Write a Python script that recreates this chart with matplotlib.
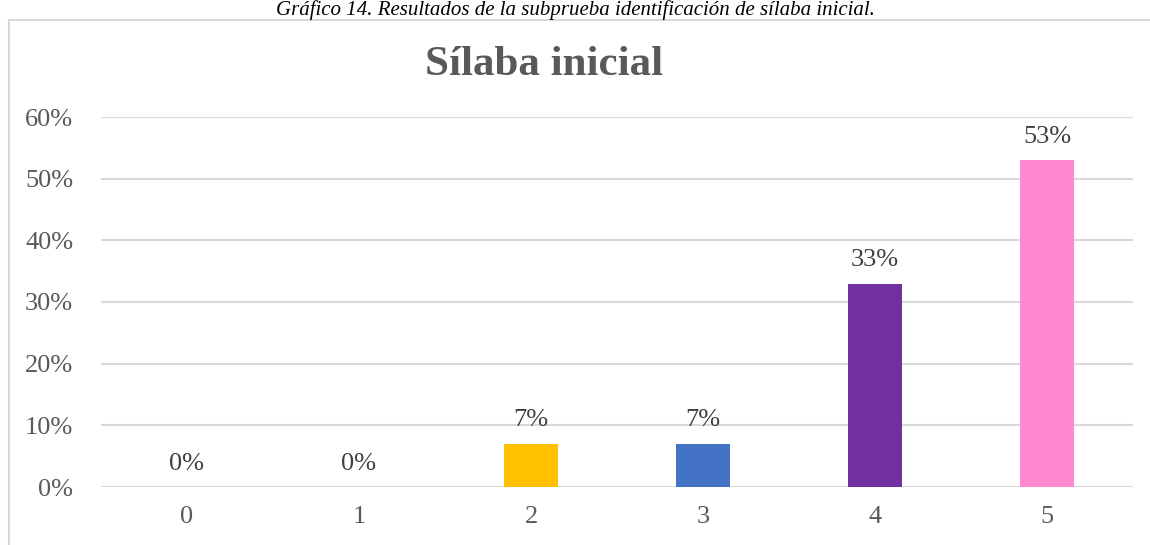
import matplotlib
matplotlib.use("Agg")
import matplotlib.pyplot as plt
from matplotlib.lines import Line2D

plt.rcParams['font.family'] = ['Liberation Serif', 'DejaVu Serif']

categories = ['0', '1', '2', '3', '4', '5']
values = [0, 0, 7, 7, 33, 53]
colors = ['#5B9BD5', '#ED7D31', '#FFC000', '#4472C4', '#7030A0', '#FF88D0']
labels = ['0%', '0%', '7%', '7%', '33%', '53%']

fig = plt.figure(figsize=(11.5, 5.45), dpi=100)
ax = fig.add_axes([101 / 1150, 58 / 545, 1032 / 1150, 370 / 545])

x = range(len(categories))
bars = ax.bar(x, values, width=0.315, color=colors, zorder=3)

for b, lab in zip(bars, labels):
    ax.annotate(lab, (b.get_x() + b.get_width() / 2, b.get_height()),
                xytext=(0, 9), textcoords='offset points',
                ha='center', va='bottom', fontsize=19, color='#404040')

ax.set_xlim(-0.5, 5.5)
ax.set_ylim(0, 60)
ax.set_yticks(range(0, 61, 10))
ax.set_yticklabels([f'{v}%' for v in range(0, 61, 10)])
ax.set_xticks(list(x))
ax.set_xticklabels(categories)
ax.tick_params(axis='both', length=0, labelsize=19, labelcolor='#595959')
ax.tick_params(axis='y', pad=20)
ax.tick_params(axis='x', pad=14)
ax.grid(axis='y', color='#d9d9d9', linewidth=1.5, zorder=0)
for s in ax.spines.values():
    s.set_visible(False)

# chart frame (left and top edges visible)
top = 1 - 20 / 545
fig.add_artist(Line2D([9 / 1150, 9 / 1150], [0, top], color='#d9d9d9', lw=1.5))
fig.add_artist(Line2D([9 / 1150, 1], [top, top], color='#d9d9d9', lw=1.5))

fig.text(544 / 1150, 1 - 75 / 545, 'Sílaba inicial', ha='center', va='baseline',
         fontsize=31, fontweight='bold', color='#595959')

fig.text(0.5, 1 - 15 / 545, 'Gráfico 14. Resultados de la subprueba identificación de sílaba inicial.',
         ha='center', va='baseline', fontsize=15, style='italic', color='black')

fig.savefig('out.png', dpi=100)
